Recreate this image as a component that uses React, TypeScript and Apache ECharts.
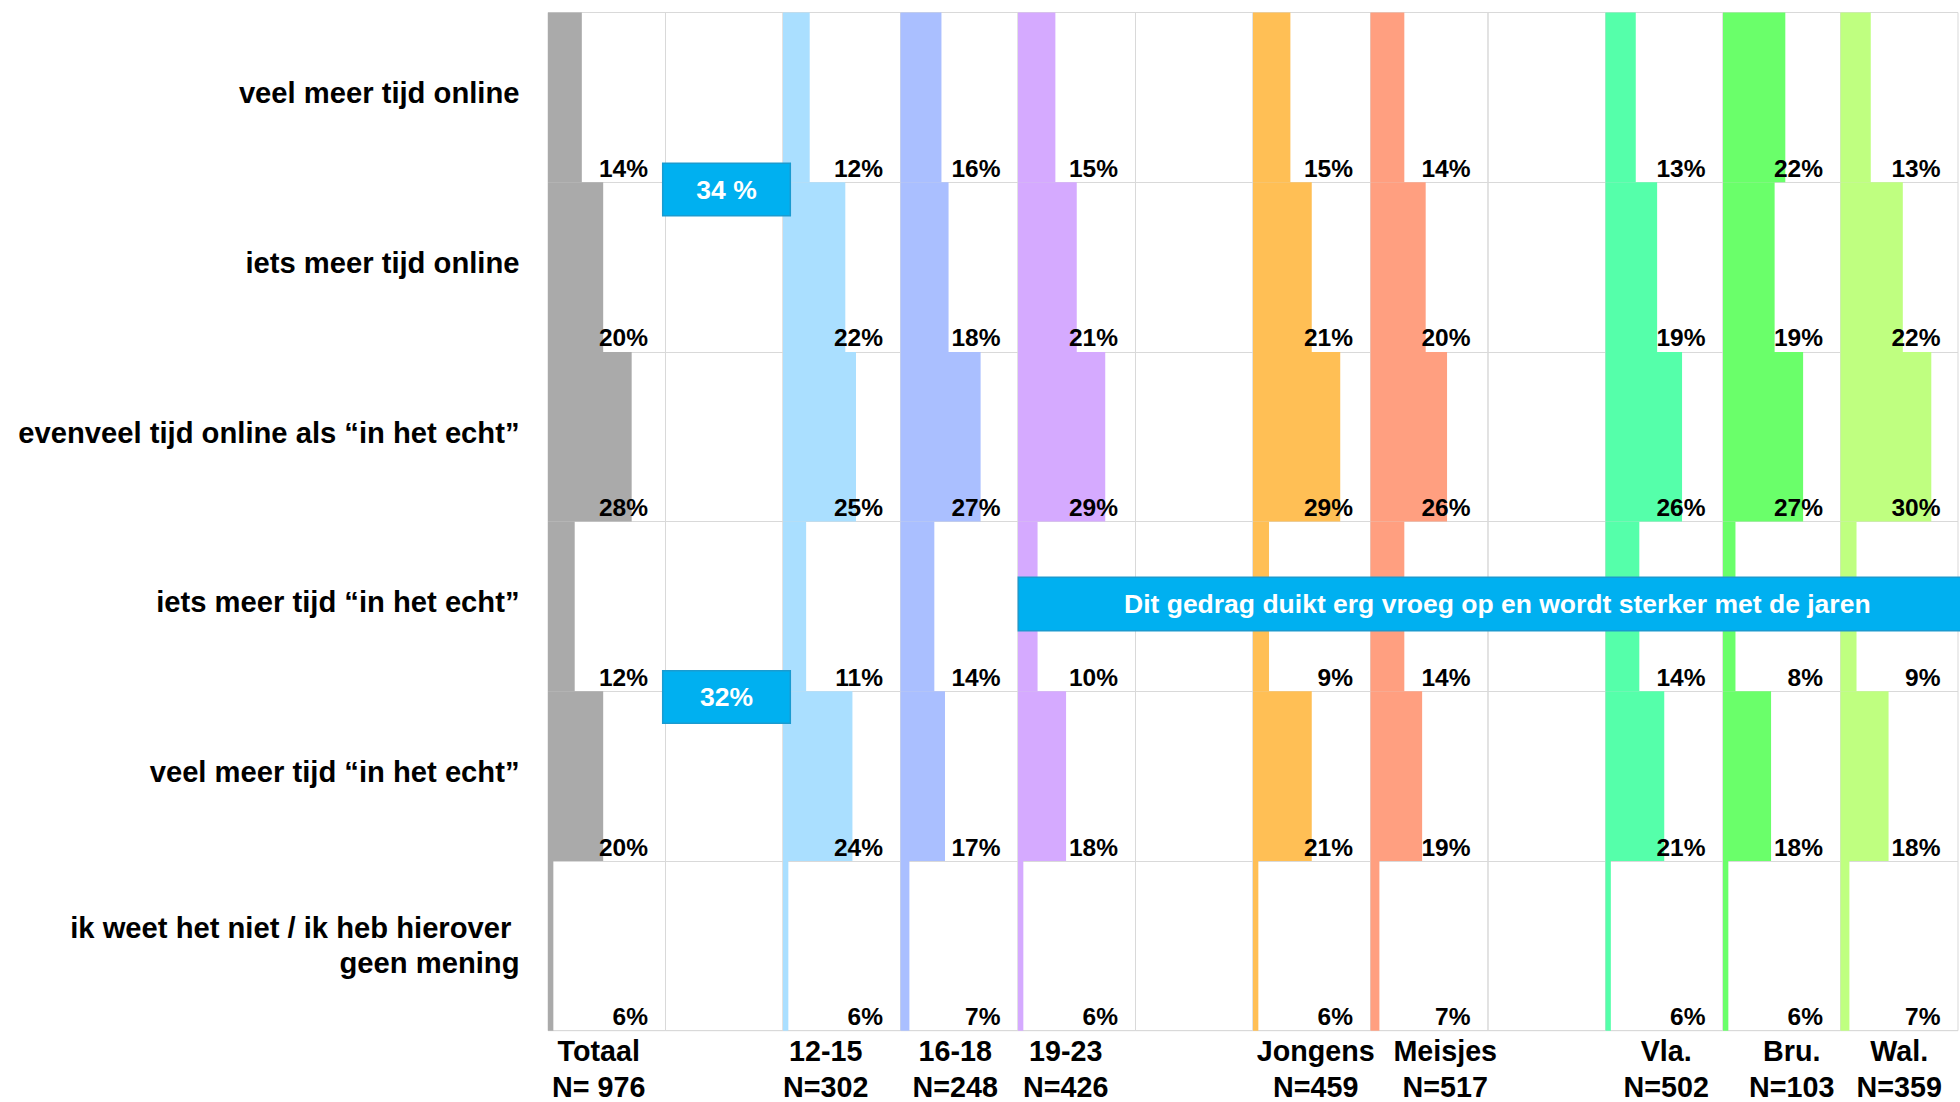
import React, { useEffect, useRef } from 'react';
import * as echarts from 'echarts';

const categories = [
  'veel meer tijd online',
  'iets meer tijd online',
  'evenveel tijd online als “in het echt”',
  'iets meer tijd “in het echt”',
  'veel meer tijd “in het echt”',
  'ik weet het niet / ik heb hierover \ngeen mening',
];

const groupNames = ['Totaal', '12-15', '16-18', '19-23', 'Jongens', 'Meisjes', 'Vla.', 'Bru.', 'Wal.'];
const groupN = ['N= 976', 'N=302', 'N=248', 'N=426', 'N=459', 'N=517', 'N=502', 'N=103', 'N=359'];

const totaal = [14, 20, 28, 12, 20, 6];
const age1215 = [12, 22, 25, 11, 24, 6];
const age1618 = [16, 18, 27, 14, 17, 7];
const age1923 = [15, 21, 29, 10, 18, 6];
const jongens = [15, 21, 29, 9, 21, 6];
const meisjes = [14, 20, 26, 14, 19, 7];
const vla = [13, 19, 26, 14, 21, 6];
const bru = [22, 19, 27, 8, 18, 6];
const wal = [13, 22, 30, 9, 18, 7];

const groupValues = [totaal, age1215, age1618, age1923, jongens, meisjes, vla, bru, wal];
const groupColors = ['#AAAAAA', '#AADFFF', '#AABFFF', '#D5AAFF', '#FFBF55', '#FF9F80', '#55FFAA', '#6AFF6A', '#BFFF80'];

const annotationTexts = ['34 %', '32%', 'Dit gedrag duikt erg vroeg op en wordt sterker met de jaren'];

// ---- layout ----
const FONT = '"Liberation Sans", Arial, Helvetica, sans-serif';
const COLS = 12;
const columnSlots = [0, 2, 3, 4, 6, 7, 9, 10, 11];
const nameShift = [-8, -16, -4, -11, 4, 16, 2, 10, 0];
const PLOT_LEFT = 548;
const COL_W = 117.5;
const PLOT_TOP = 12.5;
const PLOT_H = 1018.2;
const AXIS_MIN = 4.5;
const AXIS_MAX = 37.5;
const GRID_COLOR = '#D9D9D9';
const BOX_FILL = '#00B0F0';
const BOX_STROKE = '#1A9BD0';
const annotationBoxes = [
  { x: 662.7, y: 163.3, w: 127.6, h: 52.4 },
  { x: 662.7, y: 670.7, w: 127.6, h: 52.6 },
  { x: 1018.3, y: 577.3, w: 958, h: 53.4 },
];

const labelFont = {
  fontSize: 29.2,
  fontWeight: 'bold',
  color: '#000',
  fontFamily: FONT,
  lineHeight: 35,
  align: 'right',
};

const renderItem = (params: any, api: any) => {
  const v = api.value(0);
  const cat = api.value(1);
  const start = api.coord([AXIS_MIN, cat]);
  const end = api.coord([v, cat]);
  const band = api.size([0, 1])[1];
  const cs = params.coordSys;
  return {
    type: 'group',
    children: [
      {
        type: 'rect',
        shape: { x: start[0], y: start[1] - band / 2, width: end[0] - start[0], height: band },
        style: { fill: api.visual('color') },
      },
      {
        type: 'text',
        x: cs.x + cs.width - 17.5,
        y: start[1] + band / 2 - 1.5,
        z2: 10,
        style: {
          text: v + '%',
          align: 'right',
          verticalAlign: 'bottom',
          fill: '#000',
          fontSize: 24.5,
          fontWeight: 'bold',
          fontFamily: FONT,
        },
      },
    ],
  };
};

export default function App() {
  const ref = useRef<HTMLDivElement>(null);
  useEffect(() => {
    if (!ref.current) return;
    const chart = echarts.init(ref.current, null, { renderer: 'svg' });
    const grids: any[] = [];
    const xAxes: any[] = [];
    const yAxes: any[] = [];
    for (let i = 0; i < COLS; i++) {
      const g = columnSlots.indexOf(i);
      grids.push({
        left: PLOT_LEFT + i * COL_W,
        top: PLOT_TOP,
        width: COL_W,
        height: PLOT_H,
        show: true,
        borderColor: GRID_COLOR,
        borderWidth: 1,
        backgroundColor: 'transparent',
        containLabel: false,
        outerBoundsMode: 'none',
      });
      const d = g >= 0 ? nameShift[g] : 0;
      xAxes.push({
        gridIndex: i,
        type: 'value',
        min: AXIS_MIN,
        max: AXIS_MAX,
        axisLine: { show: false },
        axisTick: { show: false },
        axisLabel: { show: false },
        splitLine: { show: false },
        name: g >= 0 ? groupNames[g] + '\n' + groupN[g] : '',
        nameLocation: 'middle',
        nameGap: 3,
        nameTextStyle: {
          fontSize: 28.7,
          fontWeight: 'bold',
          color: '#000',
          fontFamily: FONT,
          lineHeight: 35.6,
          padding: [0, d < 0 ? -2 * d : 0, 0, d > 0 ? 2 * d : 0],
        },
      });
      yAxes.push({
        gridIndex: i,
        type: 'category',
        inverse: true,
        data: categories,
        axisLine: { show: false },
        axisTick: { show: false },
        axisLabel: {
          show: i === 0,
          ...labelFont,
          margin: 28.5,
          formatter: (v: string) =>
            v.indexOf('\n') >= 0
              ? v.split('\n').map((s) => `{m|${s}}`).join('\n')
              : `{s|${v}}`,
          rich: {
            s: { ...labelFont, padding: [0, 0, 8, 0] },
            m: { ...labelFont },
          },
        },
        splitLine: { show: true, lineStyle: { color: GRID_COLOR, width: 1 } },
      });
    }
    const series = groupValues.map((vals, g) => ({
      type: 'custom',
      name: groupNames[g],
      xAxisIndex: columnSlots[g],
      yAxisIndex: columnSlots[g],
      renderItem,
      itemStyle: { color: groupColors[g] },
      encode: { x: 0, y: 1 },
      data: vals.map((v, i) => [v, i]),
    }));
    const graphic: any[] = [];
    annotationBoxes.forEach((b, k) => {
      graphic.push({
        type: 'rect',
        z: 100,
        shape: { x: b.x, y: b.y, width: b.w, height: b.h },
        style: { fill: BOX_FILL, stroke: BOX_STROKE, lineWidth: 1.5 },
      });
      graphic.push({
        type: 'text',
        z: 101,
        x: b.x + b.w / 2,
        y: b.y + b.h / 2,
        style: {
          text: annotationTexts[k],
          align: 'center',
          verticalAlign: 'middle',
          fill: '#FFFFFF',
          fontSize: 26.5,
          fontWeight: 'bold',
          fontFamily: FONT,
        },
      });
    });
    chart.setOption({
      animation: false,
      backgroundColor: '#FFFFFF',
      grid: grids,
      xAxis: xAxes,
      yAxis: yAxes,
      series,
      graphic,
    });
    return () => chart.dispose();
  }, []);
  return (
    <div
      ref={ref}
      style={{ position: 'fixed', left: 0, top: 0, width: 1960, height: 1102 }}
    />
  );
}
